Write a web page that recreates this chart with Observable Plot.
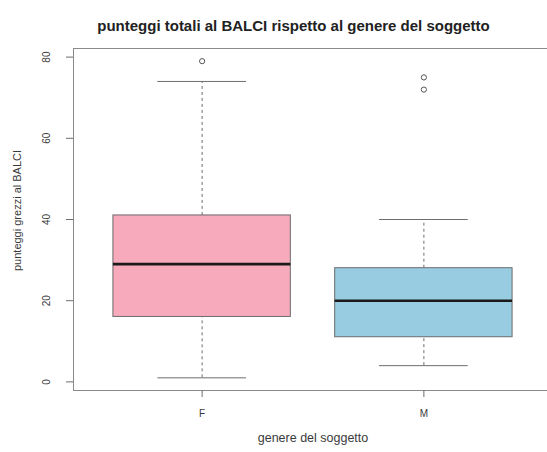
<!DOCTYPE html>
<html>
<head>
<meta charset="utf-8">
<script src="https://cdn.jsdelivr.net/npm/d3@7"></script>
<script src="https://cdn.jsdelivr.net/npm/@observablehq/plot@0.6"></script>
<style>
  html, body { margin: 0; padding: 0; background: #fff; overflow: hidden; }
  #chart svg { overflow: hidden; display: block; }
</style>
</head>
<body>
<div id="chart"></div>
<script>
// ---- data ----
const groups = ["F", "M"];
const whiskerLow = [1, 4];
const q1 = [16, 11];
const median = [29, 20];
const q3 = [41, 28];
const whiskerHigh = [74, 40];
const outliersF = [79];
const outliersM = [75, 72];
const fills = ["#F8AABD", "#98CDE1"];
const yTicks = [0, 20, 40, 60, 80];

const titleText = "punteggi totali al BALCI rispetto al genere del soggetto";
const xLabel = "genere del soggetto";
const yLabel = "punteggi grezzi al BALCI";

// table built from the arrays
const boxes = groups.map((g, i) => ({
  g, pos: i + 1, lo: whiskerLow[i], q1: q1[i], med: median[i], q3: q3[i], hi: whiskerHigh[i], fill: fills[i]
}));
const outliers = [
  ...outliersF.map(v => ({pos: 1, v})),
  ...outliersM.map(v => ({pos: 2, v}))
];

const textColor = "#3a3a3a";
const lineColor = "#6e6e6e";

const chart = Plot.plot({
  width: 547,
  height: 452,
  marginLeft: 73,
  marginRight: -5,
  marginTop: 48,
  marginBottom: 62,
  style: {fontFamily: "Liberation Sans, Arial, sans-serif", background: "#fff", color: textColor},
  x: {domain: [0.42, 2.58], axis: null},
  y: {domain: [-2.12, 82.12], axis: null},
  marks: [
    // whiskers (dashed)
    Plot.ruleX(boxes, {x: "pos", y1: "q3", y2: "hi", stroke: lineColor, strokeDasharray: "3,3", strokeWidth: 1}),
    Plot.ruleX(boxes, {x: "pos", y1: "lo", y2: "q1", stroke: lineColor, strokeDasharray: "3,3", strokeWidth: 1}),
    // whisker caps
    Plot.ruleY(boxes, {y: "hi", x1: d => d.pos - 0.2, x2: d => d.pos + 0.2, stroke: lineColor, strokeWidth: 1}),
    Plot.ruleY(boxes, {y: "lo", x1: d => d.pos - 0.2, x2: d => d.pos + 0.2, stroke: lineColor, strokeWidth: 1}),
    // boxes
    Plot.rect(boxes, {x1: d => d.pos - 0.4, x2: d => d.pos + 0.4, y1: "q1", y2: "q3", fill: "fill", stroke: "#6a6a6a", strokeWidth: 1}),
    // medians
    Plot.ruleY(boxes, {y: "med", x1: d => d.pos - 0.4, x2: d => d.pos + 0.4, stroke: "#1a1a1a", strokeWidth: 2.6}),
    // outliers
    Plot.dot(outliers, {x: "pos", y: "v", r: 2.6, stroke: "#555", strokeWidth: 1, fill: "none"}),
    // frame
    Plot.frame({stroke: "#8a8a8a", strokeWidth: 1}),
    // y axis ticks + rotated labels
    Plot.axisY({ticks: yTicks, tickSize: 7, tickFormat: () => "", stroke: lineColor, label: null}),
    Plot.text(yTicks, {y: d => d, text: d => String(d), frameAnchor: "left", dx: -27, rotate: -90, textAnchor: "middle", fontSize: 10, fill: textColor}),
    // x axis
    Plot.axisX({ticks: [1, 2], tickFormat: d => groups[d - 1], tickSize: 7, tickPadding: 12, fontSize: 10, stroke: lineColor, fill: textColor, label: null}),
    // axis titles
    Plot.text([xLabel], {text: d => d, frameAnchor: "bottom", dy: 51, fontSize: 12.5, fill: textColor}),
    Plot.text([yLabel], {text: d => d, frameAnchor: "left", dx: -56, dy: -9, rotate: -90, textAnchor: "middle", fontSize: 11, fill: textColor}),
    // title
    Plot.text([titleText], {text: d => d, frameAnchor: "top", dx: -19.5, dy: -28, fontSize: 15, fontWeight: "bold", fill: "#222"})
  ]
});
document.getElementById("chart").appendChild(chart);
</script>
</body>
</html>
